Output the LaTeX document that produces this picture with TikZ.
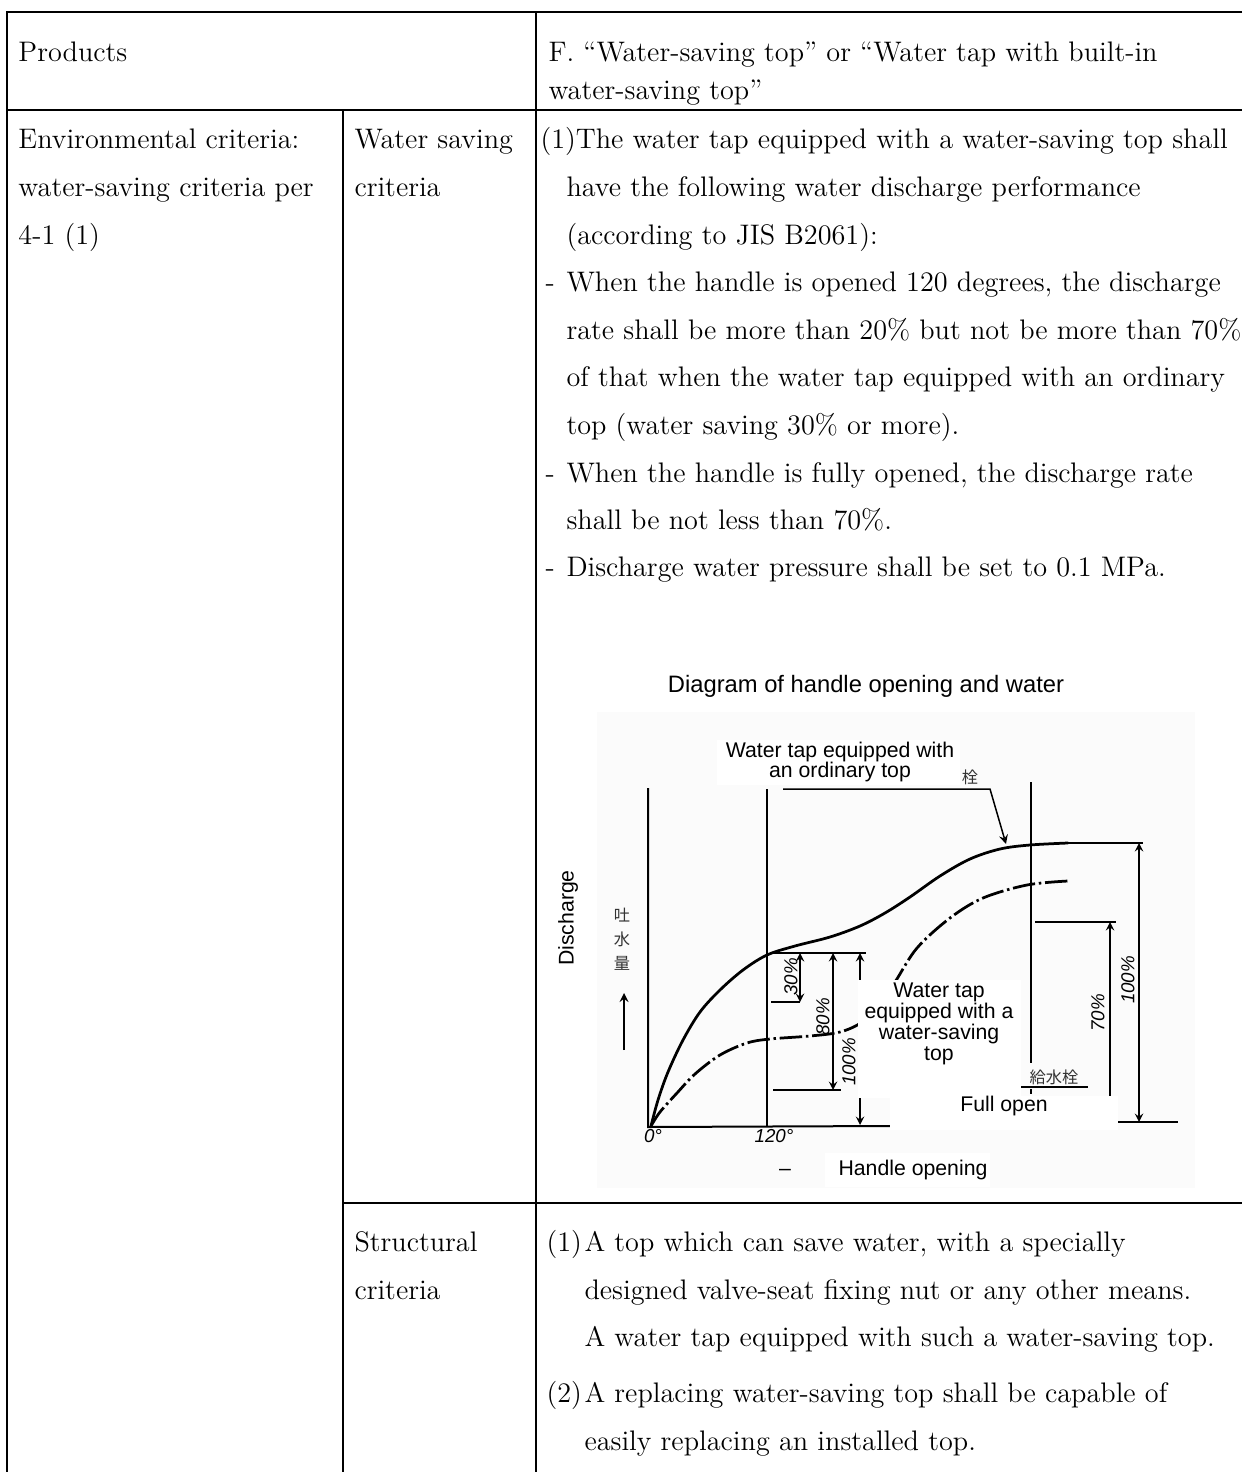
\documentclass[tikz,border=0pt]{standalone}
\usepackage{fontspec}
\newfontfamily\chartfont{Liberation Sans}
\newfontfamily\jpfont{Noto Sans CJK JP}
\usetikzlibrary{arrows}

\tikzset{
  rule/.style={line width=0.9pt},
  txt/.style={anchor=base west, inner sep=0pt, font=\fontsize{11.3}{13}\selectfont},
  lbl/.style={font=\chartfont\fontsize{8.5}{8.3}\selectfont, align=center, inner sep=0pt},
  pct/.style={font=\chartfont\itshape\fontsize{7.5}{8}\selectfont, rotate=90, inner sep=0pt},
  jp/.style={font=\jpfont\fontsize{6.5}{7}\selectfont, inner sep=0pt, text=black!80},
  curve/.style={line width=1.1pt, line cap=round},
  dashdot/.style={line width=1.1pt, dash pattern=on 9pt off 1.5pt on 1pt off 1.5pt},
  dimline/.style={line width=0.5pt, <->, >=stealth},
  patch/.style={fill=white, draw=none},
}

\begin{document}
\begin{tikzpicture}[x=0.4pt, y=-0.4pt]
\useasboundingbox (0,0) rectangle (1242,1472);

% table rules
\draw[rule] (1242,12) -- (7,12) -- (7,1472);
\draw[rule] (7,110) -- (1242,110);
\draw[rule] (536,12) -- (536,1472);
\draw[rule] (343,110) -- (343,1472);
\draw[rule] (343,1203) -- (1242,1203);

% header row
\node[txt] (prod) at (18,62) {Products};
\node[txt] (head1) at (548,62) {F. “Water-saving top” or “Water tap with built-in};
\node[txt] (head2) at (548,100) {water-saving top”};

% first column
\node[txt] (env1) at (18,148) {Environmental criteria:};
\node[txt] (env2) at (18,196) {water-saving criteria per};
\node[txt] (env3) at (18,244) {4-1 (1)};

% water saving row
\node[txt] (ws1) at (354,148) {Water saving};
\node[txt] (ws2) at (354,196) {criteria};
\node[txt] (p1) at (540,148) {(1)The water tap equipped with a water-saving top shall};
\foreach \i/\y/\t in {2/196/{have the following water discharge performance},
                      3/244/{(according to JIS B2061):},
                      4/291/{When the handle is opened 120 degrees, the discharge},
                      5/339/{rate shall be more than 20\% but not be more than 70\%},
                      6/386/{of that when the water tap equipped with an ordinary},
                      7/434/{top (water saving 30\% or more).},
                      8/482/{When the handle is fully opened, the discharge rate},
                      9/529/{shall be not less than 70\%.},
                      10/576/{Discharge water pressure shall be set to 0.1 MPa.}}
  \node[txt] (p\i) at (566,\y) {\t};
\foreach \y [count=\i] in {291,482,576} % the dashes in front
  \node[txt] (dash\i) at (545,\y) {-};

% structural row
\node[txt] (st1) at (354,1251) {Structural};
\node[txt] (st2) at (354,1299) {criteria};
\node[txt] (n1) at (546,1251) {(1)};
\node[txt] (s1) at (584,1251) {A top which can save water, with a specially};
\node[txt] (s2) at (584,1299) {designed valve-seat fixing nut or any other means.};
\node[txt] (s3) at (584,1346) {A water tap equipped with such a water-saving top.};
\node[txt] (n2) at (546,1402) {(2)};
\node[txt] (s4) at (584,1402) {A replacing water-saving top shall be capable of};
\node[txt] (s5) at (584,1450) {easily replacing an installed top.};

% chart
\fill[black!1.5] (597,712) rectangle (1195,1188);
\node[lbl, font=\chartfont\fontsize{9.5}{11}\selectfont] (title) at (866,686) {Diagram of handle opening and water};

\draw[line width=0.8pt] (648,788) -- (648,1127) -- (890,1126);
\draw[line width=0.8pt] (1118,1122) -- (1178,1122);
\draw[line width=0.6pt] (767,789) -- (767,1127); % 120 deg
\draw[line width=0.6pt] (1031,782) -- (1031,1063); % full open
\draw[line width=0.6pt] (1031,1089) -- (1031,1094);

\draw[curve] plot[smooth, tension=0.55] coordinates {(651,1126) (658,1100) (668,1072) (683,1040) (700,1012) (720,990) (743,970) (767,955) (795,946) (830,937) (860,926) (885,913) (910,897) (940,876) (970,859) (1000,849) (1030,845) (1068,843)};
\draw[dashdot] plot[smooth, tension=0.55] coordinates {(651,1126) (660,1112) (677,1093) (695,1074) (720,1055) (747,1043) (770,1039) (810,1036) (840,1032) (862,1022) (880,1003) (895,982) (917,948) (950,918) (983,898) (1027,885) (1068,881)};

% dimensions at 120 deg
\draw[line width=0.5pt] (771,953) -- (866,953);
\draw[line width=0.5pt] (771,1002) -- (800,1002);
\draw[line width=0.5pt] (773,1090) -- (841,1090);
\draw[dimline] (800,953) -- (800,1002);
\draw[dimline] (833,953) -- (833,1090);
\draw[dimline] (860,953) -- (860,1125);
\node[pct] (d30) at (791,977) {30\%};
\node[pct] (d80) at (823,1017) {80\%};
\node[pct] (d100) at (849,1062) {100\%};

% dimensions at full open
\draw[line width=0.5pt] (1068,843) -- (1143,843);
\draw[line width=0.5pt] (1035,922) -- (1116,922);
\draw[dimline] (1110,922) -- (1110,1122);
\draw[dimline] (1139,843) -- (1139,1122);
\node[pct] (r70) at (1098,1013) {70\%};
\node[pct] (r100) at (1128,980) {100\%};

% leader to the ordinary tap curve
\draw[line width=0.6pt, ->, >=stealth] (783,789) -- (990,789) -- (1006,844);

% white patches under the labels
\fill[patch] (717,740) rectangle (960,785);
\fill[patch] (858,980) rectangle (1021,1098);
\fill[patch] (890,1096) rectangle (1118,1130);
\fill[patch] (825,1153) rectangle (990,1187);

\node[lbl] (ordinary) at (840,762) {Water tap equipped with\\an ordinary top};
\node[lbl] (saving) at (939,1024) {Water tap\\equipped with a\\water-saving\\top};
\node[lbl] (full) at (1004,1106) {Full open};
\node[lbl] (handle) at (913,1170) {Handle opening};
\node[lbl, rotate=90] (disch) at (568,918) {Discharge};
\node[lbl] (dash) at (785,1172) {–};

\node[jp] (j1) at (622,915) {吐};
\node[jp] (j2) at (622,939) {水};
\node[jp] (j3) at (622,963) {量};
\draw[line width=0.6pt, ->, >=stealth] (624,1050) -- (624,993);
\node[jp] (tap) at (970,777) {栓};
\node[jp] (kyu) at (1054,1077) {給水栓};
\draw[line width=0.6pt] (1021,1087) -- (1088,1087);

\node[pct, rotate=-90] (deg0) at (653,1136) {0°};
\node[pct, rotate=-90] (deg120) at (774,1136) {120°};
\end{tikzpicture}
\end{document}
